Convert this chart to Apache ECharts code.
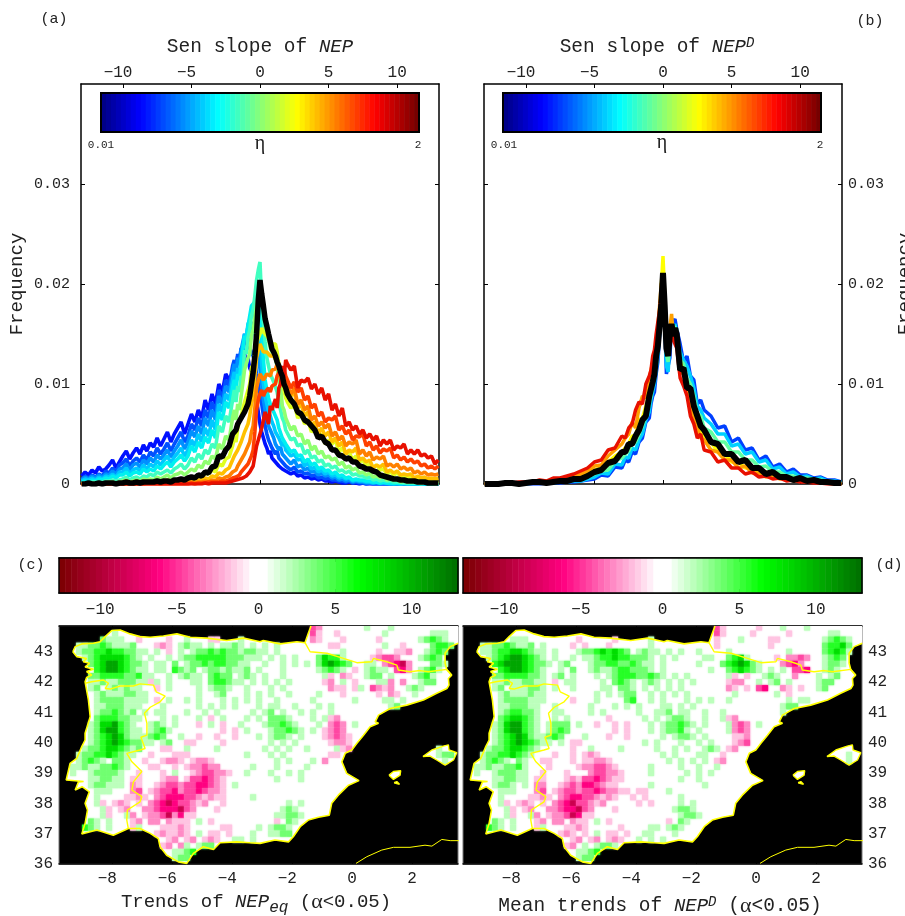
<!DOCTYPE html>
<html>
<head>
<meta charset="utf-8">
<title>NEP trends</title>
<style>
html, body { margin: 0; padding: 0; background: #fff; }
#main { width: 905px; height: 916px; }
</style>
<script src="https://cdn.jsdelivr.net/npm/echarts@6/dist/echarts.min.js"></script>
</head>
<body>
<div id="main"></div>
<script>
// slope bins of panel (a): tail, core, tail
const binsA = [-13,-12.75,-12.5,-12.25,-12,-11.75,-11.5,-11.25,-11,-10.75,-10.5,-10.25,-10,-9.75,-9.5,-9.25,-9,-8.75,-8.5,-8.25,-8,-7.75,-7.5,-7.25,-7,-6.75,-6.5,-6.25,-6,-5.75,-5.5,-5.25,-5,-4.75,-4.5,-4.25,-4,-3.75,-3.5,-3.25,-3,-2.75,-2.5,-2.25,
  -2,-1.875,-1.75,-1.625,-1.5,-1.375,-1.25,-1.125,-1,-0.875,-0.75,-0.625,-0.5,-0.375,-0.25,-0.125,0,0.125,0.25,0.375,0.5,0.625,0.75,0.875,1,1.125,1.25,1.375,1.5,1.625,1.75,1.875,2,
  2.25,2.5,2.75,3,3.25,3.5,3.75,4,4.25,4.5,4.75,5,5.25,5.5,5.75,6,6.25,6.5,6.75,7,7.25,7.5,7.75,8,8.25,8.5,8.75,9,9.25,9.5,9.75,10,10.25,10.5,10.75,11,11.25,11.5,11.75,12,12.25,12.5,12.75,13];

// slope bins of panel (b)
const binsB = [-13,-12.5,-12,-11.5,-11,-10.5,-10,-9.5,-9,-8.5,-8,-7.5,-7,-6.5,-6,-5.5,-5,-4.5,-4,-3.5,-3,
  -2.75,-2.5,-2.25,-2,-1.75,-1.5,-1.25,-1,
  -0.875,-0.75,-0.625,-0.5,-0.375,-0.25,-0.125,
  0,
  0.125,0.25,0.375,0.5,0.625,0.75,0.875,
  1,1.25,1.5,1.75,2,2.25,2.5,2.75,3,
  3.5,4,4.5,5,5.5,6,6.5,7,7.5,8,8.5,9,9.5,10,10.5,11,11.5,12,12.5,13];

// panel (a), frequency in 1e-4 units, one curve per eta
const etaColorsA = ['#0010ff','#0050ff','#0090ff','#00c8ff','#00f0f0','#40ffc0','#90ff70','#e0ff20','#ffc000','#ff8000','#ff4000','#e81000'];
const curvesA = [
  [8,12,9,14,11,17,13,15,19,24,16,22,28,33,25,31,36,30,39,33,41,37,46,38,45,52,42,50,56,62,50,60,70,62,74,66,84,74,90,80,100,92,110,104,
   112,122,116,128,120,132,126,130,122,126,116,112,100,94,84,72,60,52,46,40,36,30,33,26,28,22,24,18,20,15,17,13,14,
   10,12,8,9,6,7,5,6,4,5,3,3,2,3,2,1,1,2,1,1,0,1,0,0,0,0,0,0,0,0,0,0,0,0,0,0,0,0,0,0,0,0,0,0],
  [5,8,6,9,7,10,8,13,11,16,12,19,21,25,18,23,26,22,29,24,32,28,36,30,35,41,33,40,46,52,42,48,60,54,66,58,74,66,82,72,94,86,104,98,
   118,124,114,130,124,136,130,144,140,146,136,138,128,122,110,100,90,80,68,58,50,44,42,36,36,30,33,26,28,22,24,18,20,
   14,17,12,13,10,11,8,9,6,7,5,6,4,4,3,3,2,3,1,2,1,1,0,1,0,0,0,0,0,0,0,0,0,0,0,0,0,0,0,0,0,0,0,0],
  [4,7,5,8,6,9,7,10,9,13,10,15,16,20,14,19,21,17,24,20,26,22,29,25,29,34,27,33,38,44,35,42,53,47,58,50,66,58,74,64,88,80,98,92,
   112,120,110,126,122,134,132,150,146,158,154,162,156,152,140,128,115,100,84,74,66,58,56,50,46,40,42,34,37,30,32,26,28,
   20,24,17,19,14,16,12,13,9,11,8,9,6,7,4,5,3,4,2,3,2,2,1,1,1,1,0,1,0,0,0,0,0,0,0,0,0,0,0,0,0,0,0,0],
  [3,5,4,6,4,7,5,8,7,10,7,12,12,16,10,14,16,13,19,15,20,17,23,19,24,28,21,27,31,36,28,34,44,38,50,42,56,48,64,54,80,72,90,84,
   104,112,100,116,110,126,124,150,146,160,164,172,170,168,160,152,145,120,100,88,80,72,68,62,58,52,54,46,48,38,42,34,36,
   28,30,24,25,18,21,15,17,12,14,10,12,8,9,6,7,5,6,3,4,3,3,2,2,1,2,1,1,1,0,1,0,0,0,0,0,0,0,0,0,0,0,0,0],
  [2,3,2,4,3,5,4,6,5,8,6,9,9,12,8,11,12,10,15,12,15,13,18,15,19,22,17,22,25,29,23,28,38,32,42,36,47,41,54,46,72,64,82,76,
   96,104,94,110,104,120,118,148,144,158,168,178,176,182,186,188,190,150,124,104,94,86,80,76,72,68,64,56,58,46,44,40,42,
   32,34,28,29,22,25,19,21,15,17,13,14,10,12,8,9,6,7,4,5,4,4,3,3,2,2,1,2,1,1,0,1,0,1,0,0,0,0,0,0,0,0,0,0],
  [1,1,1,2,2,2,2,3,3,4,3,4,5,7,4,6,7,5,8,7,10,8,12,10,12,14,11,15,17,20,15,19,26,22,30,25,34,30,40,36,58,52,68,62,
   84,94,82,98,92,108,104,134,130,146,154,168,174,188,204,214,222,182,162,142,126,118,110,106,102,100,92,82,80,66,62,54,56,
   44,46,38,40,30,34,26,28,22,24,18,20,16,18,13,14,11,13,9,10,8,8,6,7,4,5,3,4,3,3,2,2,2,1,1,1,1,1,0,1,0,0,0,0],
  [0,1,0,1,1,1,1,1,2,2,1,2,3,4,2,3,4,3,5,4,5,4,7,5,7,9,6,9,10,12,9,12,15,13,19,16,23,20,28,25,40,35,48,44,
   66,74,64,80,74,88,86,114,112,126,130,148,154,166,178,186,190,186,178,166,150,144,136,132,128,125,118,104,98,78,74,66,68,
   54,58,48,50,40,44,34,38,30,33,26,28,24,26,19,22,16,18,14,16,11,12,9,11,7,8,6,7,4,5,4,4,2,3,2,2,2,2,1,1,1,1,0,1],
  [0,0,0,0,0,0,0,1,0,1,1,1,1,1,1,2,1,2,2,2,2,2,3,2,3,4,3,4,4,5,4,5,6,6,8,7,11,10,14,12,20,18,25,27,
   38,46,42,56,54,68,66,82,84,94,100,116,120,132,140,146,150,156,152,150,148,146,144,140,142,140,132,120,106,102,94,86,82,
   76,80,66,70,60,64,52,56,46,50,40,44,40,44,32,36,30,32,24,28,22,24,18,20,17,19,14,15,10,12,9,11,8,7,6,7,5,6,4,5,3,4,2,3],
  [0,0,0,0,0,0,0,0,0,0,1,0,1,1,0,1,1,1,1,1,1,1,2,1,2,2,2,2,2,3,2,3,3,3,4,4,6,5,8,7,11,10,14,16,
   24,28,26,34,34,42,42,52,56,60,68,80,88,108,126,134,140,136,132,130,132,130,128,126,128,125,126,120,114,110,104,98,92,
   88,92,76,80,68,72,58,62,50,56,48,52,42,46,38,42,30,34,32,36,24,26,22,24,16,19,17,20,12,14,11,13,9,10,9,10,6,8,6,7,5,6,5,6],
  [0,0,0,0,0,0,0,0,0,0,0,0,0,0,1,0,0,1,0,1,1,1,1,0,1,1,1,1,1,1,2,1,2,1,2,2,3,2,4,3,6,5,7,8,
   12,14,14,18,18,24,24,30,32,38,42,52,58,76,96,104,110,108,104,106,110,112,108,114,116,115,120,116,112,110,106,104,98,
   90,96,80,84,74,78,64,68,58,62,56,60,48,52,44,48,38,42,40,44,30,34,28,32,24,27,25,28,18,20,17,20,15,17,14,16,11,13,10,12,9,10,9,10],
  [0,0,0,0,0,0,0,0,0,0,0,0,0,0,0,0,0,0,0,0,0,0,0,0,0,0,0,0,0,0,0,0,1,0,1,1,1,2,2,2,2,3,3,4,
   6,7,7,9,9,12,12,16,16,20,22,28,34,52,74,84,90,94,88,92,90,96,92,98,98,100,108,106,114,112,116,108,104,
   96,102,92,96,84,88,76,80,68,72,62,66,64,68,54,58,50,54,44,48,47,50,38,42,34,38,31,35,33,36,26,29,24,27,22,25,21,23,18,20,16,18,15,18],
  [0,0,0,0,0,0,0,0,0,0,0,0,0,0,0,0,0,0,0,0,0,0,0,0,0,0,0,0,0,0,0,0,0,0,0,0,1,0,1,1,1,1,1,2,
   3,3,4,5,5,6,6,8,8,10,12,14,18,28,38,44,50,56,64,72,70,60,78,74,80,85,76,96,100,118,106,124,120,
   114,118,96,104,102,106,95,100,90,96,84,90,74,80,68,76,58,62,54,58,50,54,46,50,44,48,38,44,40,44,34,38,36,40,30,34,30,34,28,30,26,28,20,24]
];
const blackA = [0,0,1,0,0,1,0,1,1,1,0,1,1,2,1,1,2,1,2,2,2,2,3,2,3,3,2,4,4,5,4,6,7,6,9,8,12,11,17,18,28,27,34,38,
  50,52,54,60,62,66,68,72,74,80,88,100,112,128,150,184,204,190,178,165,158,150,148,135,132,128,122,118,112,108,100,96,90,
  84,80,72,70,64,62,58,54,46,48,42,40,34,34,29,28,25,26,22,22,18,17,15,15,13,12,9,8,7,6,5,5,4,4,3,3,3,2,2,2,1,1,1,1];

// panel (b)
const etaColorsB = ['#0040ff','#00d0ff','#60ffa0','#ffff00','#ffa000','#e81000'];
const curvesB = [
  [0,0,0,0,0,0,0,0,0,1,1,1,2,2,3,4,5,9,8,17,16, 24,22,32,30,42,46,62,66, 80,88,92,110,122,148,170, 190, 160,110,108,126,160,158,165, 155,140,122,128,108,104,80,84,74, 68,56,58,42,46,34,36,24,28,17,20,12,15,9,9,6,7,4,4,2],
  [0,0,0,0,0,0,0,1,1,1,1,2,2,3,3,5,7,11,10,20,19, 27,26,36,34,44,50,64,72, 84,92,100,114,128,150,172, 198, 165,118,112,140,155,156,160, 160,132,124,118,108,96,78,74,66, 60,50,50,38,40,30,32,22,24,15,17,10,12,7,8,5,6,3,3,2],
  [0,0,0,0,0,0,1,1,1,1,2,2,3,4,4,7,10,13,14,23,26, 30,33,40,42,50,58,68,80, 88,98,108,118,138,152,180, 206, 172,130,122,146,155,158,156, 155,124,120,106,100,88,70,68,56, 52,42,42,32,32,24,24,17,18,12,12,8,8,5,6,4,4,2,2,1],
  [0,0,0,0,1,1,1,1,2,1,3,3,4,6,7,10,14,16,22,28,32, 36,40,48,48,64,66,78,90, 98,104,120,128,148,162,198, 228, 188,142,130,148,162,150,152, 146,122,112,98,80,74,56,54,44, 42,32,30,22,22,16,16,11,12,7,8,4,5,3,4,2,2,1,1,0],
  [0,0,0,0,1,1,1,2,2,3,3,4,6,7,10,13,18,19,28,34,40, 46,50,62,56,76,88,86,106, 104,122,126,140,156,178,200, 205, 182,146,132,156,170,148,148, 145,112,110,90,80,64,56,46,44, 34,32,24,24,16,18,11,11,7,8,5,6,3,4,2,3,1,1,0,0],
  [0,0,1,1,1,2,2,2,4,3,6,6,8,10,13,16,22,24,34,36,48, 46,56,60,74,82,80,100,108, 114,128,134,150,162,174,190, 196, 176,148,136,146,150,144,140, 136,106,98,88,68,60,46,50,34, 32,22,24,16,16,10,12,7,8,5,6,3,4,2,2,1,1,0,0,0]
];
const blackB = [0,0,0,1,1,0,1,2,2,1,2,3,3,5,5,8,12,14,21,23,32, 32,40,40,48,54,64,68,88, 90,102,110,128,138,158,180, 211, 178,136,128,150,160,148,156, 150,114,116,96,96,78,68,58,54, 42,40,30,30,22,24,16,16,10,12,7,7,4,6,3,4,2,2,1,1];

// tick labels
const slopeTicks = [-10,-5,0,5,10];
const freqTicks = [0,0.01,0.02,0.03];
const lonTicks = [-8,-6,-4,-2,0,2];
const latTicks = [36,37,38,39,40,41,42,43];

// colour bar steps
const etaSteps = [0,1,2,3,4,5,6,7,8,9,10,11,12,13,14,15,16,17,18,19,20,21,22,23,24,25,26,27,28,29,30,31,32,33,34,35,36,37,38,39,40,41,42,43,44,45,46,47,48,49,50,51,52,53,54,55,56,57,58,59,60,61,62,63];
const trendSteps = [-13,-12.6,-12.2,-11.8,-11.4,-11,-10.6,-10.2,-9.8,-9.4,-9,-8.6,-8.2,-7.8,-7.4,-7,-6.6,-6.2,-5.8,-5.4,-5,-4.6,-4.2,-3.8,-3.4,-3,-2.6,-2.2,-1.8,-1.4,-1,-0.6,-0.2,0.2,0.6,1,1.4,1.8,2.2,2.6,3,3.4,3.8,4.2,4.6,5,5.4,5.8,6.2,6.6,7,7.4,7.8,8.2,8.6,9,9.4,9.8,10.2,10.6,11,11.4,11.8,12.2,12.6];

// coastlines and borders, lon/lat
const coastNorth = [[-9.31,43.0],[-9.23,43.17],[-9.01,43.26],[-8.62,43.28],[-8.4,43.33],[-8.23,43.5],[-8.01,43.7],[-7.73,43.72],[-7.4,43.59],[-7.07,43.5],[-6.73,43.48],[-6.29,43.52],[-5.84,43.59],[-5.4,43.48],[-4.85,43.45],[-4.18,43.37],[-3.62,43.45],[-3.07,43.33],[-2.96,43.37],[-2.4,43.26],[-1.84,43.33],[-1.57,43.3],[-1.46,43.61],[-1.37,43.85]];
const coastEast = [[3.54,43.28],[3.27,43.17],[3.1,42.95],[3.1,42.62],[3.16,42.4],[3.32,42.23],[3.21,42.12],[3.23,41.9],[3.16,41.79],[2.82,41.63],[2.38,41.41],[1.82,41.24],[1.27,41.13],[0.88,40.91],[0.77,40.69],[0.88,40.64],[0.6,40.53],[0.38,40.25],[0.16,39.98],[-0.01,39.76],[-0.23,39.65],[-0.34,39.37],[-0.18,38.99],[0.23,38.75],[-0.12,38.6],[-0.46,38.27],[-0.68,38.0],[-0.76,37.61],[-1.12,37.54],[-1.46,37.45],[-1.73,37.23],[-1.96,36.9],[-2.12,36.73],[-2.57,36.79],[-3.07,36.68],[-3.4,36.7],[-3.84,36.73],[-4.4,36.7],[-4.62,36.48],[-4.96,36.57],[-5.29,36.35],[-5.51,36.02],[-5.79,36.07],[-6.18,36.29],[-6.4,36.57],[-6.46,36.84],[-6.73,37.01],[-7.07,37.17],[-7.46,37.17],[-7.96,36.95],[-8.51,37.12],[-9.01,36.99],[-8.9,37.34],[-8.82,37.78],[-8.9,38.0],[-8.76,38.38],[-9.0,38.55],[-9.23,38.44],[-9.12,38.71],[-8.95,38.72],[-9.53,38.77],[-9.4,39.32],[-9.18,39.48],[-9.01,39.87],[-8.9,40.09],[-8.9,40.31],[-8.73,40.86],[-8.79,41.41],[-8.9,42.01],[-8.85,42.15],[-8.68,42.23],[-8.85,42.35],[-8.62,42.42],[-8.9,42.5],[-8.75,42.62],[-8.96,42.67],[-8.85,42.78],[-9.18,42.84],[-9.31,43.0]];
const borderPortugal = [[-8.9,41.96],[-8.68,42.01],[-8.29,42.07],[-8.12,41.96],[-8.23,41.79],[-8.07,41.77],[-7.73,41.87],[-7.29,41.87],[-7.07,41.94],[-6.62,41.9],[-6.53,41.68],[-6.23,41.54],[-6.4,41.35],[-6.73,41.17],[-6.92,40.97],[-6.84,40.64],[-6.84,40.25],[-7.04,40.18],[-6.9,39.81],[-7.07,39.76],[-7.51,39.65],[-7.34,39.37],[-7.01,39.05],[-7.29,38.71],[-7.34,38.44],[-7.01,38.22],[-7.07,38.05],[-7.49,37.78],[-7.51,37.45],[-7.46,37.17]];
const borderPyrenees = [[-1.57,43.3],[-1.4,43.0],[-0.84,42.95],[-0.29,42.78],[0.16,42.64],[0.66,42.67],[0.71,42.78],[1.16,42.67],[1.49,42.56],[1.54,42.4],[1.93,42.34],[2.27,42.38],[2.54,42.34],[3.16,42.42],[3.32,42.23]];
const mallorca = [[2.36,39.54],[2.66,39.76],[3.04,39.89],[3.21,39.93],[3.23,39.76],[3.49,39.67],[3.38,39.43],[3.1,39.26],[2.82,39.43],[2.6,39.56],[2.36,39.54]];
const ibiza = [[1.23,38.93],[1.38,39.05],[1.62,39.08],[1.6,38.93],[1.38,38.79],[1.23,38.93]];
const formentera = [[1.4,38.68],[1.49,38.72],[1.58,38.63],[1.4,38.68]];
const northAfrica = [[0.13,36.02],[0.49,36.24],[0.99,36.46],[1.38,36.55],[1.93,36.55],[2.43,36.62],[2.66,36.59],[2.99,36.81],[3.27,36.77],[3.57,36.77]];

// trend levels of the map cells: a-e green, p-t pink
const levels = { a: 2, b: 3.8, c: 5.6, d: 8, e: 10.5, p: -1.8, q: -3.2, r: -4.8, s: -6.5, t: -9 };
// 0.2 degree cells, first row lat 43.8, first column lon -9.7
const cellsC = [
'..........................................rq.......a...a...........',
'.........a...............................rrp..p.......a.......aaa..',
'......abaaa..p....p..a...pp...a...........qp...p.....p......abcba..',
'...aabbcbaaab...pqp.abaa.a.aaba.a.a.a........pp.......a..p....bccba..',
'...abbccdccbbaa.a.p.a.abbcbcbbabbaa.a..........a.....p..ppq..abcbb..',
'....abcddddcba.a..a.abbcccccbbbaaa.a.a.a...bdcca....pqrrq...abcba..',
'...aabcdeedcbba.aa.b.abbcbccbbaa..a..a.a.a.bdedcb..aa.qrstq...bba..',
'....abcdeedcbaa.aa.cbab.abbabaab.a...a.....abcba.p.abaa.rsq.abca...',
'....abbccccbbcaa..a.abaa.bcbb.aba.a..a......ap.qp..abb.a...abca....',
'.....aabaabbbaapa.a...aa.bccbaa.a.a.a.a.....pq.a.p...aaq.q..abb.....',
'.....ab.ababaa..p.a....a.abba..a...a.a.......qpp.pa.rqpq..aba......',
'......abaaabbaa........a..ab...a.a.a..a....a...p.....p.qp..a.......',
'......abbbbaaaa.p.a..a.a...a.a.a.a..a.....a......a....aa.a.........',
'......aabbbaaa...a.....a.a.a.a...a.aa..a...a.a.........ab.a........',
'......abbcbab.a.aa...a..a.a.....a.ab.a..a.a..a........aa...........',
'......bcccbbaa...a.a...a.p.a...a.a.bbba...a.apq..........a.........',
'.....abddecba..aba.a...p.a.p..a...abbcba...a.qrq.a.................',
'.....abdeecbaa.abca........p.p.a...abbcba.a.pqrq...................',
'.....abcdedbaaabcb..a..p..p..p...a.abba.a...pqrqp..................',
'.....abcdedcbbaa.ab..pp....p.......a.a.a.....pqqp..................',
'....abbcddcbab...pp..a....a.......a.a.a..a....apq..............a.a..',
'...abbccdcbaa..p...ppp.........a...a.a.......pp................abb.a',
'...abcba.bba..p..pqqp.pqqp..........a.a...a.q...................a.ab',
'..aabaabbcba...pp..p.pqqrqq.....a...a....a........................',
'..a..abbbba..p...p.a..pqrrqqp..a...a..a.a................aa........',
'.....aabbaa.pp...pqq.prrsrqp........a...a..........................',
'.....abbaaa.qp..pqrrqrrssrqp.a.....................................',
'......aaa...qr.pqrrsqrrsrqqp.......................................',
'......a....ppqp.qrsssrrqpqpp....a..................................',
'......ap.pqp.p.qrstsrrqpq..p..........a.a..........................',
'.......ap.pq..qqrssstrq...p..........aba...........................',
'.......ap..aq.pqqrtqspp.............aabba..........................',
'.....ba.a...pq.qq.qppp.a.p..........p.ba...........................',
'....cba.a...pa...pppqp.....pp....a.abba............................',
'.....a........a.pqppqp.a.pp.p...a..aabb............................',
'...............pq.pq.pq.pqp..aa.a..................................',
'.................pq.qa.abba........................................',
'.................p.aabcba..........................................',
'..................pabba............................................',
'...................p...............................................'
];
const cellsD = [
'..........................................rp.....p...a...a........',
'.........................................rrp....p.....p......aa...',
'......a.aaa........p.....p.....a..........p...a....pp.......abcba.',
'...aabbcbaab.a....p.p...p......a..........p........p........bccdb.',
'...aabccddcbaa.a...abbcdcdcb.abaa.a.a..a....a.........a.....bcdca.',
'....abcdeedcba.a..a.aabccdccbbba.a.a....aa..bcda....p.qqrq..abcba.',
'...abcdeeedcbba.ab...abbccbbcbaa.a.....a...bcdedba...qrsq...abba..',
'....abcdeedcba..a.b..abaabccbbba.a.......a..bcdcba.a.a.rrs..aba...',
'....abbccccbba.ab.a...a.abcccbbcba.a.a......ap.p..aba..q...a.ab...',
'.....aabaabbaa.p.aa....a.bcba.aba.a.a.a.....pqq..a.ab.a....abb....',
'.....ab.aaabba.a..a....aa.bba.a.a.a.a.......qp.p.rs..qp.p..ab.....',
'......abaaabaa........a.a.abb..a.a.a.a.......a......a.p...........',
'......abbbbaaa....p...a....bc..a.a...a.a.a..a.........a.aa........',
'......aabbbaa..a.....a...a.a.a...aa.a.a..............abb.a........',
'......abccbba..aa....a.a.....a..aab.aa..a..a.........a............',
'......bcddcba..a.a......p.....a.a.abba..a..apq....................',
'.....abdeecba.abbb.a..p..p.p...a.abbcba.a...aqrq.a................',
'.....abdeecba.abcb.......p.p...a.abbca.a....aqrq..................',
'.....abcdedbaabcb...a...p..p.....a.abba.a....ppq..................',
'.....abcdedcbaa.a.pp..........a.a...a..a.a...pqr..................',
'....abbcddcba.....p..a....a.....a..a.a..aba.pq...............aa...',
'...abbccdcba...p..p.pqp..........a.a...aa..p....................a.',
'...abcba.ba..pp...p.ppqqp.........a.a.a.a.pq..................a.a.',
'..aabaabbca...p....pqqrrqp.....a....a..a..a.......................',
'..a..abbbaa..p...p...qrrqqp....a.....a.a.a..........aa............',
'.....aabbaa.pp...pqprrsrqpp.........a..a...........a..............',
'.....abba.a.qq..pqrqssrqpp.....a........a.........................',
'......aaa...qr.pqrrqrrsrqqpp.pp...a...............................',
'......a....ppqp.qrssrrqpqp..p.p.....a.............................',
'......ap.pqp.p.qrstrrqpq.....p.p....a.a...........................',
'.......ap.pq..qqrsstrq...p.........abba...........................',
'.......ap..aq.pqqrtspp..............abba..........................',
'.....ba.a...pq.qq.qpp.a.p.........p.ba............................',
'....cba.a...pa...ppqp.....p....aa.aba.............................',
'.....a........a.pqp.p.a.pp.p..aa...a..............................',
'...............pq.pq.pq.pqp..a.a.a................................',
'.................pq.a.abba........................................',
'.................p.aabcb...........................................',
'..................pabba...........................................',
'...................p..............................................'
];

const MONO = '"Liberation Mono", monospace';
const SERIF = '"Liberation Serif", serif';
const INK = '#222';

function mix(a, b, t) {
  return a.map((v, i) => Math.round(v + (b[i] - v) * t));
}
// red-pink-white-green-dark green bar of panels c and d
function trendColor(v) {
  const stops = [[-13, [122,0,0]], [-6.5, [255,0,128]], [-0.4, [255,255,255]], [0.4, [255,255,255]], [6.5, [0,255,0]], [13, [0,110,0]]];
  for (let i = 1; i < stops.length; i++) {
    if (v <= stops[i][0]) {
      const t = Math.max(0, (v - stops[i-1][0]) / (stops[i][0] - stops[i-1][0]));
      return 'rgb(' + mix(stops[i-1][1], stops[i][1], t).join(',') + ')';
    }
  }
  return 'rgb(0,110,0)';
}
function jetColor(v) {
  const t = v / 63 * 4;
  const f = (c) => Math.round(255 * Math.min(1, Math.max(0, 1.5 - Math.abs(t - c))));
  return 'rgb(' + f(3) + ',' + f(2) + ',' + f(1) + ')';
}

// negative labels sit a little left of their tick in the original
function minus(v) {
  return v < 0 ? '\u2212' + Math.abs(v) + ' ' : String(v);
}

function axis(grid, position, min, max, ticks, labels, extra) {
  return Object.assign({
    type: 'value', gridIndex: grid, position: position, min: min, max: max,
    splitLine: { show: false },
    axisLine: { show: true, onZero: false, lineStyle: { color: '#000', width: 1.5 } },
    axisTick: { show: !!ticks, inside: true, length: 4, customValues: ticks || undefined, lineStyle: { color: '#000', width: 1 } },
    axisLabel: { show: !!labels, customValues: ticks || undefined, fontFamily: MONO, fontSize: 16, color: INK, formatter: minus, margin: 7 }
  }, extra || {});
}
function hidden(grid, min, max) {
  return { type: 'value', gridIndex: grid, min: min, max: max, show: false };
}

const SLOPE = 13.05, FREQ_MAX = 0.04;
const LON_MIN = -9.77, LON_MAX = 3.53, LAT_MIN = 36, LAT_MAX = 43.85;

const grids = [
  { left: 81, top: 84, width: 358, height: 400 },
  { left: 484, top: 84, width: 358, height: 400 },
  { left: 101, top: 93, width: 318, height: 39, show: true, borderColor: '#000', borderWidth: 2, z: 10 },
  { left: 503, top: 93, width: 318, height: 39, show: true, borderColor: '#000', borderWidth: 2, z: 10 },
  { left: 59, top: 558, width: 399, height: 35, show: true, borderColor: '#000', borderWidth: 1.5, z: 10 },
  { left: 463, top: 558, width: 399, height: 35, show: true, borderColor: '#000', borderWidth: 1.5, z: 10 },
  { left: 59, top: 626, width: 399, height: 238, show: true, backgroundColor: '#000', borderColor: '#777', borderWidth: 1, z: 0 },
  { left: 463, top: 626, width: 399, height: 238, show: true, backgroundColor: '#000', borderColor: '#777', borderWidth: 1, z: 0 }
].map((g) => Object.assign({ containLabel: false, outerBoundsMode: 'none' }, g));

const xAxes = [
  axis(0, 'top', -SLOPE, SLOPE, slopeTicks, true),
  axis(0, 'bottom', -SLOPE, SLOPE, slopeTicks, false),
  axis(1, 'top', -SLOPE, SLOPE, slopeTicks, true),
  axis(1, 'bottom', -SLOPE, SLOPE, slopeTicks, false),
  hidden(2, 0, 64),
  hidden(3, 0, 64),
  axis(4, 'bottom', -13, 13, slopeTicks, true),
  axis(4, 'top', -13, 13, slopeTicks, false),
  axis(5, 'bottom', -13, 13, slopeTicks, true),
  axis(5, 'top', -13, 13, slopeTicks, false),
  axis(6, 'bottom', LON_MIN, LON_MAX, lonTicks, true),
  axis(7, 'bottom', LON_MIN, LON_MAX, lonTicks, true),
  axis(6, 'top', LON_MIN, LON_MAX, lonTicks, false),
  axis(7, 'top', LON_MIN, LON_MAX, lonTicks, false)
];
xAxes[0].axisLabel.margin = 3;
xAxes[2].axisLabel.margin = 3;
xAxes[6].axisLabel.margin = 9;
xAxes[8].axisLabel.margin = 9;
const freqName = { name: 'Frequency', nameLocation: 'middle', nameRotate: 90, nameTextStyle: { fontFamily: MONO, fontSize: 19, color: INK } };
const yAxes = [
  axis(0, 'left', 0, FREQ_MAX, freqTicks, true, Object.assign({ nameGap: 55 }, freqName)),
  axis(0, 'right', 0, FREQ_MAX, freqTicks, false),
  axis(1, 'left', 0, FREQ_MAX, freqTicks, false),
  axis(1, 'right', 0, FREQ_MAX, freqTicks, true, Object.assign({ nameGap: 53 }, freqName)),
  hidden(2, 0, 1),
  hidden(3, 0, 1),
  hidden(4, 0, 1),
  hidden(5, 0, 1),
  axis(6, 'left', LAT_MIN, LAT_MAX, latTicks, true, { axisLine: { show: false }, axisTick: { show: false } }),
  axis(7, 'right', LAT_MIN, LAT_MAX, latTicks, true, { axisLine: { show: false }, axisTick: { show: false } })
];
yAxes[0].axisLabel.fontSize = 15;
yAxes[0].axisLabel.margin = 11;
yAxes[3].axisLabel.fontSize = 15;
yAxes[3].axisLabel.margin = 6;
yAxes[8].axisLabel.margin = 6;
yAxes[9].axisLabel.margin = 6;

function curveSeries(bins, values, color, width, xi, yi, z) {
  return {
    type: 'line', xAxisIndex: xi, yAxisIndex: yi, z: z, silent: true,
    showSymbol: false, clip: true,
    lineStyle: { color: color, width: width, join: 'bevel' },
    data: values.map((v, i) => [bins[i], v * 1e-4])
  };
}

function stepSeries(steps, width, colorFn, xi, yi) {
  return {
    type: 'custom', xAxisIndex: xi, yAxisIndex: yi, silent: true, z: 3,
    encode: { x: 0 },
    data: steps.map((s) => [s]),
    renderItem: (params, api) => {
      const p = api.coord([api.value(0), 1]);
      const q = api.coord([api.value(0) + width, 0]);
      return { type: 'rect', shape: { x: p[0], y: p[1], width: q[0] - p[0] + 0.5, height: q[1] - p[1] }, style: { fill: colorFn(api.value(0) + width / 2) } };
    }
  };
}

const landRings = [coastNorth.concat([[3.6, 43.85]], coastEast), mallorca, ibiza, formentera];

function insideRing(lon, lat, ring) {
  let inside = false;
  for (let i = 0, j = ring.length - 1; i < ring.length; j = i++) {
    if ((ring[i][1] > lat) !== (ring[j][1] > lat) &&
        lon < (ring[j][0] - ring[i][0]) * (lat - ring[i][1]) / (ring[j][1] - ring[i][1]) + ring[i][0]) {
      inside = !inside;
    }
  }
  return inside;
}

function landSeries(xi, yi) {
  return {
    type: 'custom', xAxisIndex: xi, yAxisIndex: yi, silent: true, z: 1, clip: true,
    data: landRings.map((r, i) => [i]),
    encode: { x: -1, y: -1 },
    renderItem: (params, api) => ({
      type: 'polygon',
      shape: { points: landRings[api.value(0)].map((pt) => api.coord(pt)) },
      style: { fill: '#fff' }
    })
  };
}

function cellSeries(rows, xi, yi) {
  const data = [];
  rows.forEach((row, j) => {
    for (let i = 0; i < row.length; i++) {
      const lon = -9.7 + 0.2 * i, lat = 43.8 - 0.2 * j;
      if (levels[row[i]] !== undefined && landRings.some((r) => insideRing(lon, lat, r))) data.push([lon, lat, levels[row[i]]]);
    }
  });
  return {
    type: 'custom', xAxisIndex: xi, yAxisIndex: yi, silent: true, z: 2, clip: true,
    encode: { x: 0, y: 1 },
    data: data,
    renderItem: (params, api) => {
      const c = api.coord([api.value(0), api.value(1)]);
      const s = api.size([0.2, 0.2]);
      const fill = trendColor(api.value(2));
      return { type: 'rect', shape: { x: c[0] - s[0] / 2, y: c[1] - s[1] / 2, width: s[0], height: s[1] }, style: { fill: fill, shadowBlur: 2, shadowColor: fill } };
    }
  };
}

function pathSeries(points, xi, yi, width) {
  return {
    type: 'line', xAxisIndex: xi, yAxisIndex: yi, silent: true, z: 4, clip: true,
    showSymbol: false, lineStyle: { color: '#ffff00', width: width }, data: points
  };
}

function mapSeries(rows, xi, yi) {
  return [
    landSeries(xi, yi),
    cellSeries(rows, xi, yi),
    pathSeries(coastNorth, xi, yi, 1.6),
    pathSeries(coastEast, xi, yi, 1.6),
    pathSeries(borderPortugal, xi, yi, 1.4),
    pathSeries(borderPyrenees, xi, yi, 1.4),
    pathSeries(mallorca, xi, yi, 1.4),
    pathSeries(ibiza, xi, yi, 1.4),
    pathSeries(formentera, xi, yi, 1.4),
    pathSeries(northAfrica, xi, yi, 1)
  ];
}

const series = [].concat(
  curvesA.map((c, i) => curveSeries(binsA, c, etaColorsA[i], 3.6, 0, 0, 3)),
  [curveSeries(binsA, blackA, '#000', 5.5, 0, 0, 5)],
  curvesB.map((c, i) => curveSeries(binsB, c, etaColorsB[i], 3.5, 2, 2, 3)),
  [curveSeries(binsB, blackB, '#000', 6, 2, 2, 5)],
  [stepSeries(etaSteps, 1, jetColor, 4, 4)],
  [stepSeries(etaSteps, 1, jetColor, 5, 5)],
  [stepSeries(trendSteps, 0.4, trendColor, 6, 6)],
  [stepSeries(trendSteps, 0.4, trendColor, 8, 7)],
  mapSeries(cellsC, 10, 8),
  mapSeries(cellsD, 11, 9)
);

const rich = {
  it: { fontFamily: MONO, fontStyle: 'italic', fontSize: 19, color: INK },
  sup: { fontFamily: MONO, fontStyle: 'italic', fontSize: 14, verticalAlign: 'top', color: INK, padding: [0, 0, 8, 0] },
  sub: { fontFamily: MONO, fontStyle: 'italic', fontSize: 16, verticalAlign: 'bottom', color: INK, padding: [12, 0, 0, 0] },
  gr: { fontFamily: SERIF, fontSize: 22, color: INK }
};
function label(x, y, text, size, extra) {
  return {
    type: 'text', x: x, y: y, silent: true, z: 20,
    style: Object.assign({ text: text, fontFamily: MONO, fontSize: size, fill: INK, align: 'center', verticalAlign: 'middle', rich: rich }, extra || {})
  };
}

const labels = [
  label(54, 19, '(a)', 15),
  label(870, 21, '(b)', 15),
  label(31, 565, '(c)', 15),
  label(889, 565, '(d)', 15),
  label(260, 47, 'Sen slope of {it|NEP}', 19.5),
  label(657, 47, 'Sen slope of {it|NEP}{sup|D}', 19.5),
  label(101, 145, '0.01', 11),
  label(418, 145, '2', 11),
  label(504, 145, '0.01', 11),
  label(820, 145, '2', 11),
  label(260, 144, '\u03b7', 20, { fontFamily: SERIF }),
  label(662, 143, '\u03b7', 20, { fontFamily: SERIF }),
  label(256, 902, 'Trends of {it|NEP}{sub|eq} ({gr|\u03b1}<0.05)', 19),
  label(660, 906, 'Mean trends of {it|NEP}{sup|D} ({gr|\u03b1}<0.05)', 19.5)
];

const chart = echarts.init(document.getElementById('main'), null, { renderer: 'canvas' });
chart.setOption({
  animation: false,
  backgroundColor: '#fff',
  grid: grids,
  xAxis: xAxes,
  yAxis: yAxes,
  series: series,
  graphic: labels
});
</script>
</body>
</html>
